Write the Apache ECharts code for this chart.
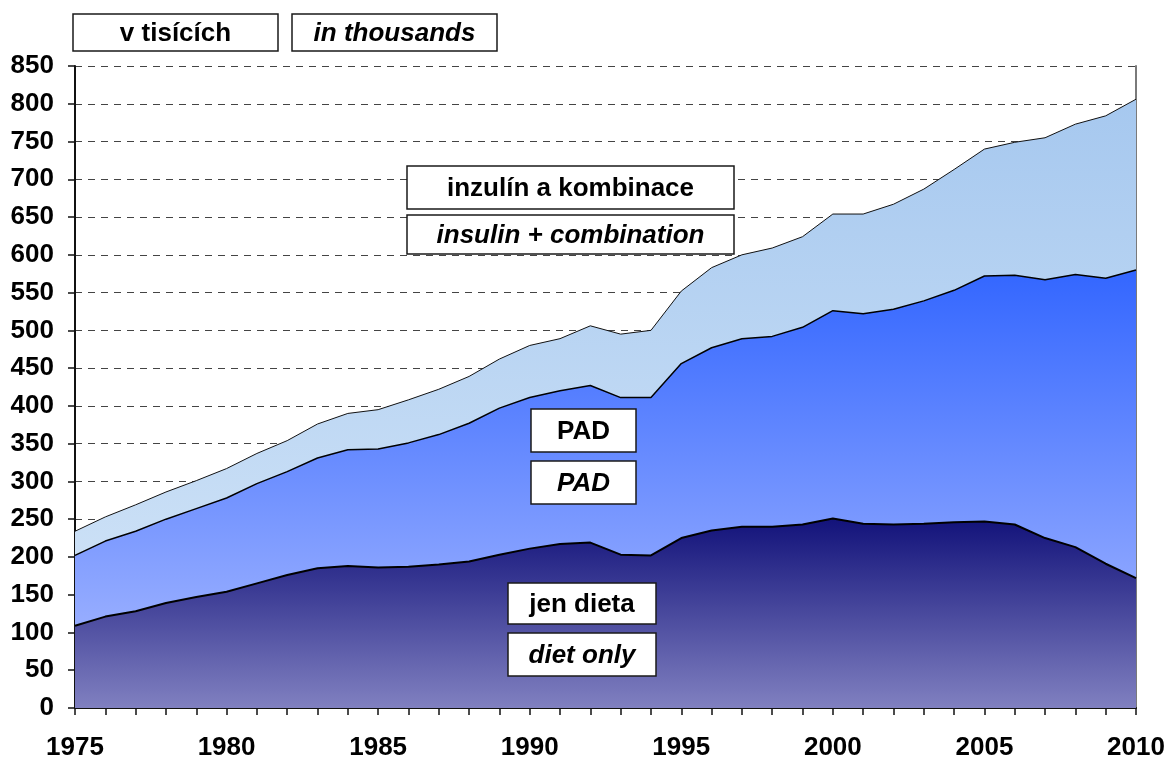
<!DOCTYPE html>
<html>
<head>
<meta charset="utf-8">
<script src="https://cdn.jsdelivr.net/npm/echarts@6/dist/echarts.min.js"></script>
<style>
html,body{margin:0;padding:0;background:#fff;}
#chart{width:1169px;height:761px;}
</style>
</head>
<body>
<div id="chart"></div>
<script>
// Data (thousands of patients)
const years = [1975,1976,1977,1978,1979,1980,1981,1982,1983,1984,1985,1986,1987,1988,1989,1990,1991,1992,1993,1994,1995,1996,1997,1998,1999,2000,2001,2002,2003,2004,2005,2006,2007,2008,2009,2010];
const dietOnly = [109,121,128,139,147,154,165,176,185,188,186,187,190,194,203,211,217,219,203,202,225,235,240,240,243,251,244,243,244,246,247,243,225,213,191,172];
const pad = [93,100,106,111,117,124,132,137,146,154,157,164,172,183,194,200,203,208,208,209,231,242,249,252,261,275,278,285,295,307,325,330,342,361,378,408];
const insulin = [32,32,35,36,37,39,40,41,45,48,52,57,60,62,65,69,69,79,84,89,96,106,111,117,120,128,132,139,148,160,168,176,188,199,215,226];
const yTicks = {min: 0, max: 850, step: 50};

const boxLabels = [
  {text: 'v tisících', italic: false, box: [73, 14, 205, 37]},
  {text: 'in thousands', italic: true, box: [292, 14, 205, 37]},
  {text: 'inzulín a kombinace', italic: false, box: [407, 166, 327, 43]},
  {text: 'insulin + combination', italic: true, box: [407, 215, 327, 39]},
  {text: 'PAD', italic: false, box: [531, 409, 105, 43]},
  {text: 'PAD', italic: true, box: [531, 461, 105, 43]},
  {text: 'jen dieta', italic: false, box: [508, 583, 148, 41]},
  {text: 'diet only', italic: true, box: [508, 633, 148, 43]}
];

const FONT = '"Liberation Sans", Arial, sans-serif';

function boxGraphic(b) {
  const x = b.box[0], y = b.box[1], w = b.box[2], h = b.box[3];
  return {
    type: 'group',
    z: 100,
    children: [
      {
        type: 'rect',
        z: 100,
        shape: {x: x, y: y, width: w, height: h},
        style: {fill: '#ffffff', stroke: '#1a1a1a', lineWidth: 1.5}
      },
      {
        type: 'text',
        z: 101,
        x: x + w / 2,
        y: y + h / 2 + 1,
        style: {
          text: b.text,
          fill: '#000',
          font: (b.italic ? 'italic ' : '') + 'bold 26px ' + FONT,
          textAlign: 'center',
          textVerticalAlign: 'middle'
        }
      }
    ]
  };
}

function grad(top, bottom) {
  return new echarts.graphic.LinearGradient(0, 0, 0, 1, [
    {offset: 0, color: top},
    {offset: 1, color: bottom}
  ]);
}

const chart = echarts.init(document.getElementById('chart'), null, {renderer: 'canvas'});
chart.setOption({
  animation: false,
  backgroundColor: '#ffffff',
  grid: {left: 75, right: 33, top: 66, bottom: 53, containLabel: false},
  xAxis: {
    type: 'category',
    data: years.map(String),
    boundaryGap: false,
    axisLine: {show: true, lineStyle: {color: '#111', width: 2}},
    axisTick: {show: true, interval: 0, length: 7, lineStyle: {color: '#111', width: 1.5}},
    axisLabel: {
      interval: 4,
      margin: 27,
      color: '#000',
      fontFamily: FONT,
      fontWeight: 'bold',
      fontSize: 26
    },
    splitLine: {show: false}
  },
  yAxis: [{
    type: 'value',
    min: yTicks.min,
    max: yTicks.max,
    interval: yTicks.step,
    axisLine: {show: true, lineStyle: {color: '#111', width: 2}},
    axisTick: {show: true, length: 7, lineStyle: {color: '#111', width: 1.5}},
    axisLabel: {
      margin: 21,
      color: '#000',
      fontFamily: FONT,
      fontWeight: 'bold',
      fontSize: 26
    },
    splitLine: {show: true, lineStyle: {color: '#444', width: 1, type: [7, 6]}}
  }, {
    type: 'value',
    position: 'right',
    min: yTicks.min,
    max: yTicks.max,
    interval: yTicks.step,
    axisLine: {show: true, lineStyle: {color: '#7a7a7a', width: 2}},
    axisTick: {show: false},
    axisLabel: {show: false},
    splitLine: {show: false}
  }],
  series: [
    {
      name: 'jen dieta',
      type: 'line',
      stack: 'total',
      data: dietOnly,
      symbol: 'none',
      lineStyle: {color: '#000', width: 2},
      areaStyle: {color: grad('#12127a', '#8080c0'), opacity: 1},
      z: 3
    },
    {
      name: 'PAD',
      type: 'line',
      stack: 'total',
      data: pad,
      symbol: 'none',
      lineStyle: {color: '#000', width: 1.5},
      areaStyle: {color: grad('#3366ff', '#97adff'), opacity: 1},
      z: 2
    },
    {
      name: 'inzulín a kombinace',
      type: 'line',
      stack: 'total',
      data: insulin,
      symbol: 'none',
      lineStyle: {color: '#111', width: 1},
      areaStyle: {color: grad('#a6c8ef', '#cbe0f6'), opacity: 1},
      z: 1
    }
  ],
  graphic: {elements: boxLabels.map(boxGraphic)}
});
</script>
</body>
</html>
